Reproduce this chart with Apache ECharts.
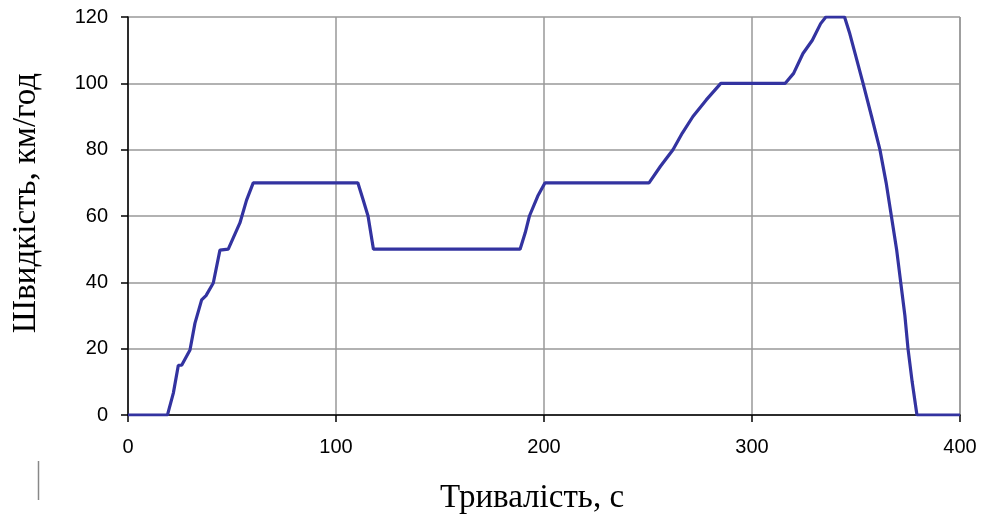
<!DOCTYPE html>
<html>
<head>
<meta charset="utf-8">
<script src="https://cdn.jsdelivr.net/npm/echarts@6/dist/echarts.min.js"></script>
<style>
  html, body { margin: 0; padding: 0; background: #fff; }
  #chart { width: 983px; height: 517px; }
</style>
</head>
<body>
<div id="chart"></div>
<script>
// Driving cycle: elapsed time (s) and vehicle speed (km/h)
const timeSec = [0, 19, 19.4, 21.8, 24.2, 25.8, 29.8, 32.2, 35.4, 37.5, 41, 44.2, 48.2, 53.8, 57, 60.2,
  110.5, 113, 115.4, 118,
  188.5, 191, 193, 197, 200.5,
  250.5, 256, 262, 266.5, 271.6, 278, 285,
  316, 320, 324.5, 329, 333, 335.5,
  344.5, 347, 350, 353.4, 357.5, 361.5, 364.5, 367, 369.5, 371.5, 373.5, 375, 377, 379.3,
  400];
const speedKmh = [0, 0, 1, 6.6, 15, 15, 19.6, 27.7, 34.7, 36, 39.8, 49.7, 50, 57.9, 64.8, 70,
  70, 65, 60, 50,
  50, 55, 60, 66, 70,
  70, 75, 80, 85, 90, 95, 100,
  100, 103, 109, 113, 118, 120,
  120, 115, 108, 100, 90, 80, 70, 60, 50, 40, 30, 20, 10, 0,
  0];

const xTicks = { min: 0, max: 400, interval: 100 };
const yTicks = { min: 0, max: 120, interval: 20 };

const chart = echarts.init(document.getElementById('chart'), null, { renderer: 'canvas' });

chart.setOption({
  animation: false,
  backgroundColor: '#ffffff',
  grid: { left: 128, right: 23, top: 17, bottom: 102, containLabel: false, outerBoundsMode: 'none' },
  xAxis: {
    type: 'value',
    min: xTicks.min, max: xTicks.max, interval: xTicks.interval,
    name: 'Тривалість, с',
    nameLocation: 'middle',
    nameGap: 67,
    nameTextStyle: { fontFamily: 'Liberation Serif', fontSize: 33, color: '#000', padding: [0, 24, 0, 0] },
    axisLine: { show: true, lineStyle: { color: '#000', width: 1.5 } },
    axisTick: { show: true, inside: false, length: 7, lineStyle: { color: '#000', width: 1.5 } },
    axisLabel: { fontFamily: 'Liberation Sans', fontSize: 20, color: '#000', margin: 22 },
    splitLine: { show: true, lineStyle: { color: '#999', width: 1.5 } }
  },
  yAxis: {
    type: 'value',
    min: yTicks.min, max: yTicks.max, interval: yTicks.interval,
    name: 'Швидкість, км/год',
    nameLocation: 'middle',
    nameGap: 85,
    nameRotate: 90,
    nameTextStyle: { fontFamily: 'Liberation Serif', fontSize: 33, color: '#000', padding: [0, 0, 0, 26] },
    axisLine: { show: true, lineStyle: { color: '#000', width: 1.5 } },
    axisTick: { show: true, inside: false, length: 7, lineStyle: { color: '#000', width: 1.5 } },
    axisLabel: { fontFamily: 'Liberation Sans', fontSize: 20, color: '#000', margin: 20 },
    splitLine: { show: true, lineStyle: { color: '#999', width: 1.5 } }
  },
  graphic: [
    // right frame edge of the plot area
    { type: 'line', shape: { x1: 960, y1: 17, x2: 960, y2: 415 }, style: { stroke: '#999', lineWidth: 1.5 }, z: 0 },
    // thin vertical stroke left of the axis title
    { type: 'line', shape: { x1: 38.5, y1: 461, x2: 38.5, y2: 500 }, style: { stroke: '#888', lineWidth: 1.5 } }
  ],
  series: [{
    type: 'line',
    data: timeSec.map((t, i) => [t, speedKmh[i]]),
    showSymbol: false,
    clip: true,
    lineStyle: { color: '#3333a0', width: 3.2 },
    z: 5
  }]
});
</script>
</body>
</html>
